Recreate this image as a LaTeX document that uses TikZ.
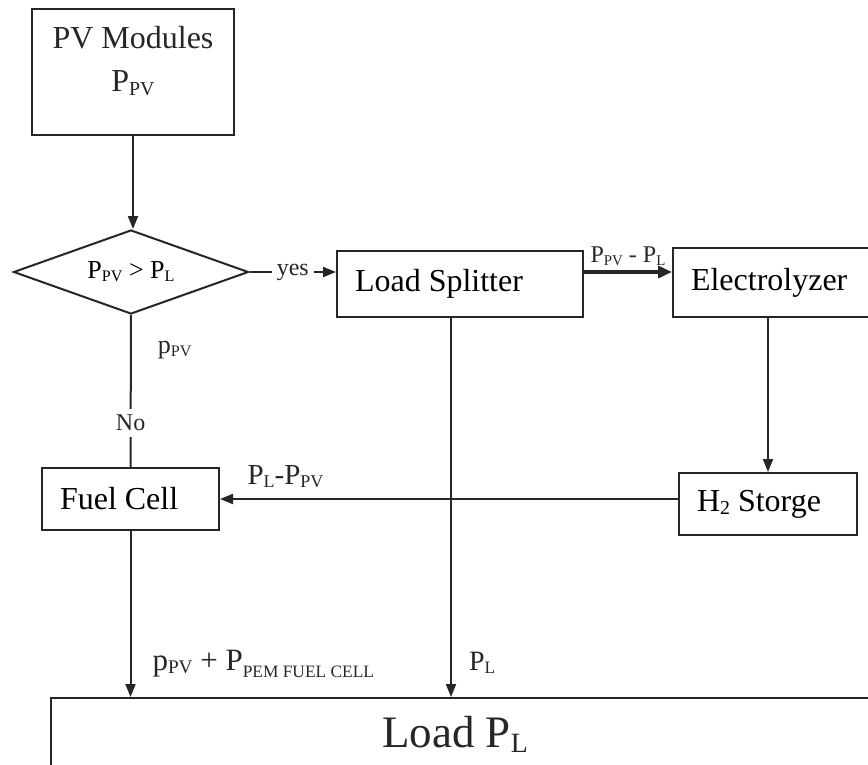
\documentclass[tikz,border=0pt]{standalone}
\usepackage{fontspec}
\setmainfont{Liberation Serif}
\usetikzlibrary{arrows.meta,shapes.geometric}
\newcommand\lowsub[1]{\raisebox{-0.25ex}{\scalebox{0.62}{#1}}}
\newcommand\fs[1]{\fontsize{#1}{1.3\dimexpr#1pt\relax}\selectfont}
\tikzset{
  box/.style={draw=black!85,line width=2pt,inner xsep=18pt,align=flush left,font=\fs{32}},
  flow/.style={draw=black!85,line width=2pt,-{Triangle[length=13pt,width=10pt]}},
  lbl/.style={text=black!85,inner sep=1pt},
}

\begin{document}
\begin{tikzpicture}[x=1pt,y=-1pt]
\useasboundingbox (0,0) rectangle (868,764);
\clip (0,0) rectangle (868,764);
\node[box,minimum width=202pt,minimum height=126pt] (pv) at (133,72) {};
\node[lbl,align=center,font=\fontsize{32}{43}\selectfont] (pvtxt) at (133,61) {PV Modules\\P\lowsub{PV}};
\node[draw=black!85,line width=2pt,diamond,aspect=2.8,minimum width=235pt,minimum height=84pt,inner sep=0pt,font=\fs{26}] (dia) at (131,272) {P\lowsub{PV} > P\lowsub{L}};
\node[box,text width=210pt,minimum height=66pt] (split) at (460,284) {Load Splitter};
\node[box,text width=184pt,minimum height=69pt] (elec) at (783,282.5) {Electrolyzer};
\node[box,text width=142pt,minimum height=62pt] (h2) at (768,504) {H\lowsub{2} Storge};
\node[box,text width=141pt,minimum height=62pt] (fc) at (130.5,499) {Fuel Cell};
\node[box,minimum width=869pt,minimum height=102pt] (load) at (485.5,749) {};
\node[lbl,font=\fs{45}] (loadtxt) at (455,734) {Load P\lowsub{L}};

\draw[flow] (pv.south) -- (pv.south |- dia.north);
\draw[flow] (dia.east) -- node[lbl,fill=white,inner xsep=5pt,font=\fs{24}] {yes} (dia.east -| split.west);
\draw[flow,line width=3.5pt,-{Triangle[length=14pt,width=12pt]}] ([yshift=12pt]split.east) -- ([yshift=12pt]split.east -| elec.west)
  node[lbl,midway,above=4pt,font=\fs{24}] {P\lowsub{PV} - P\lowsub{L}};
\draw[flow] (h2.north |- elec.south) -- (h2.north);
\draw[flow] (h2.west |- fc.east) -- (fc.east)
  node[lbl,pos=0.857,above=9pt,font=\fs{29}] {P\lowsub{L}-P\lowsub{PV}};
\draw[draw=black!85,line width=2pt] (dia.south) -- (fc.north)
  node[lbl,pos=0.23,anchor=west,xshift=25pt,font=\fs{26}] {p\lowsub{PV}}
  node[lbl,pos=0.71,fill=white,inner ysep=6pt,font=\fs{24}] {No};
\draw[flow] (fc.south) -- (fc.south |- load.north)
  node[lbl,pos=0.80,anchor=west,xshift=20pt,font=\fs{31}] {p\lowsub{PV} + P\raisebox{-0.5ex}{\scalebox{0.56}{PEM FUEL CELL}}};
\draw[flow] ([xshift=-9pt]split.south) -- ([xshift=-9pt]split.south |- load.north)
  node[lbl,pos=0.91,anchor=west,xshift=16pt,font=\fs{28}] {P\lowsub{L}};
\end{tikzpicture}
\end{document}
